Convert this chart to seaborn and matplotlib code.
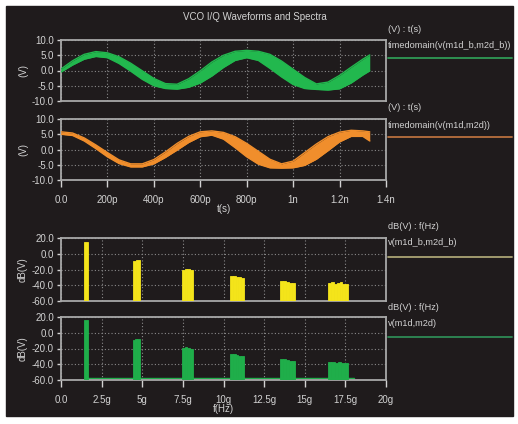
import numpy as np
import seaborn as sns
import matplotlib
matplotlib.use("Agg")
import matplotlib.pyplot as plt
from matplotlib.patches import Rectangle

# ---- time domain data (t in ns, volts) ----
t_ns = [0.0, 0.05, 0.10, 0.15, 0.20, 0.25, 0.30, 0.35, 0.40, 0.45, 0.50, 0.55, 0.60, 0.65,
        0.70, 0.75, 0.80, 0.85, 0.90, 0.95, 1.00, 1.05, 1.10, 1.15, 1.20, 1.25, 1.30, 1.33]
green_mid = [0.0, 2.5, 4.5, 5.4, 5.0, 3.4, 1.1, -1.5, -3.8, -5.1, -5.3, -4.1, -2.1, 0.5,
             3.0, 4.8, 5.4, 4.8, 3.0, 0.5, -2.1, -4.1, -5.3, -5.1, -3.8, -1.5, 1.1, 2.5]
green_half = [0.5, 0.7, 0.8, 0.8, 0.8, 1.1, 1.3, 1.4, 1.2, 0.8, 0.8, 1.4, 2.0, 2.3,
              2.0, 1.5, 1.2, 1.5, 2.3, 2.6, 2.5, 1.8, 0.9, 1.3, 2.2, 2.6, 2.6, 2.6]
orange_mid = [5.4, 5.0, 3.3, 0.9, -1.7, -4.0, -5.2, -5.2, -4.0, -1.7, 0.9, 3.3, 5.0, 5.4,
              4.5, 2.4, -0.2, -2.7, -4.6, -5.4, -4.9, -3.1, -0.7, 1.9, 4.1, 5.3, 5.2, 4.3]
orange_half = [0.4, 0.4, 0.5, 0.6, 0.7, 0.6, 0.5, 0.5, 0.7, 0.9, 1.1, 1.0, 0.8, 0.7,
               1.1, 1.8, 2.2, 2.1, 1.4, 0.7, 1.1, 2.1, 2.5, 2.3, 1.6, 1.0, 0.9, 1.5]

t_ticks = [0.0, 0.2, 0.4, 0.6, 0.8, 1.0, 1.2, 1.4]
t_labels = ["0.0", "200p", "400p", "600p", "800p", "1n", "1.2n", "1.4n"]
v_ticks = [10, 5, 0, -5, -10]
v_labels = ["10.0", "5.0", "0.0", "-5.0", "-10.0"]

# ---- spectra (f in GHz, dB) ----
harm_centers = [1.54, 4.63, 7.78, 10.83, 13.94, 17.05]
harm_widths = [0.26, 0.42, 0.64, 0.9, 0.95, 1.25]
yellow_tops = [[15.3], [-9.5, -8.5], [-20, -19, -19.5, -21],
               [-28.5, -28, -29, -30, -30.5], [-34, -34.5, -35.5, -37, -37.5],
               [-37.5, -36, -38, -37, -36.5, -38, -38.5]]
green_tops = [[16.5], [-9, -8, -8.5], [-19.5, -18.5, -19, -20],
              [-27.5, -27, -28, -29, -29], [-33.5, -33.5, -35, -36.5, -36.5],
              [-37.5, -37, -38, -37.5, -39, -38.5]]
noise_floor = -58
f_ticks = [0, 2.5, 5, 7.5, 10, 12.5, 15, 17.5, 20]
f_labels = ["0.0", "2.5g", "5g", "7.5g", "10g", "12.5g", "15g", "17.5g", "20g"]
db_ticks = [20, 0, -20, -40, -60]
db_labels = ["20.0", "0.0", "-20.0", "-40.0", "-60.0"]

BG = "#1f1b1c"
TXT = "#d2d2d2"
FRAME = "#a8a8a8"

sns.set_theme(style="dark", rc={"axes.facecolor": BG, "figure.facecolor": "white"})
plt.rcParams["font.family"] = ["Liberation Sans", "DejaVu Sans"]

W, H = 518, 424
fig = plt.figure(figsize=(W / 100, H / 100), dpi=100)
fig.patches.append(Rectangle((6 / W, 1 - 416 / H), 507 / W, 410 / H,
                             transform=fig.transFigure, color=BG, zorder=-10))


def make_ax(top, bottom):
    ax = fig.add_axes([61 / W, 1 - bottom / H, 325 / W, (bottom - top) / H])
    ax.set_facecolor(BG)
    for s in ax.spines.values():
        s.set_color(FRAME)
        s.set_linewidth(1.3)
    ax.grid(True, color="#8a8a8a", linestyle=(0, (1, 2)), linewidth=0.8)
    ax.tick_params(colors=TXT, labelsize=7, length=3, width=1, direction="out",
                   left=True, bottom=True, pad=2)
    return ax


def legend_block(y_head, head, name, y_line, color):
    fig.text(388 / W, 1 - y_head / H, head, color=TXT, fontsize=6.6, va="center")
    fig.text(388 / W, 1 - (y_head + 17) / H, name, color=TXT, fontsize=6.6, va="center")
    fig.add_artist(plt.Line2D([388 / W, 512 / W], [1 - y_line / H, 1 - y_line / H],
                              color=color, lw=1.3, transform=fig.transFigure))


def wave(ax, mid, half, color):
    mid = np.array(mid)
    half = np.array(half)
    lo, hi = mid - half, mid + half
    ax.fill_between(t_ns, lo, hi, color=color, lw=0, zorder=3)
    sns.lineplot(x=t_ns, y=lo, ax=ax, color=color, lw=1.0, zorder=3)
    sns.lineplot(x=t_ns, y=hi, ax=ax, color=color, lw=1.0, zorder=3)
    ax.set_xlim(0, 1.4)
    ax.set_ylim(-10, 10)
    ax.set_yticks(v_ticks)
    ax.set_yticklabels(v_labels)
    ax.set_xticks(t_ticks)
    ax.set_ylabel("(V)", color=TXT, fontsize=7, labelpad=3)


def spectrum(ax, tops, color):
    for c, w, tp in zip(harm_centers, harm_widths, tops):
        n = len(tp)
        sw = w / n
        xs = [c - w / 2 + sw * (i + 0.5) for i in range(n)]
        ax.bar(xs, [v + 60 for v in tp], width=sw, bottom=-60, color=color,
               edgecolor=color, linewidth=0.6, zorder=3)
    ax.set_xlim(0, 20)
    ax.set_ylim(-60, 20)
    ax.set_yticks(db_ticks)
    ax.set_yticklabels(db_labels)
    ax.set_xticks(f_ticks)
    ax.set_ylabel("dB(V)", color=TXT, fontsize=7, labelpad=3)


fig.text(255 / W, 1 - 17 / H, "VCO I/Q Waveforms and Spectra", color=TXT,
         fontsize=7, ha="center", va="center")

ax1 = make_ax(40, 101)
wave(ax1, green_mid, green_half, "#22b84e")
ax1.tick_params(axis="x", bottom=False, labelbottom=False)
legend_block(29, "(V) : t(s)", "timedomain(v(m1d_b,m2d_b))", 58, "#2f9a55")

ax2 = make_ax(119, 180)
wave(ax2, orange_mid, orange_half, "#f08e2c")
ax2.set_xticklabels(t_labels)
ax2.tick_params(axis="x", length=5, pad=6)
ax2.set_xlabel("t(s)", color=TXT, fontsize=7, labelpad=-1)
legend_block(108, "(V) : t(s)", "timedomain(v(m1d,m2d))", 137, "#b8703e")

ax3 = make_ax(238, 301)
spectrum(ax3, yellow_tops, "#f4e41a")
ax3.tick_params(axis="x", bottom=False, labelbottom=False)
legend_block(226, "dB(V) : f(Hz)", "v(m1d_b,m2d_b)", 257, "#aaa474")

ax4 = make_ax(317, 380)
spectrum(ax4, green_tops, "#1fae4a")
sns.lineplot(x=[1.6, 18.0], y=[noise_floor, noise_floor], ax=ax4, color="#1fae4a",
             lw=1.0, zorder=2)
ax4.set_xticklabels(f_labels)
ax4.tick_params(axis="x", length=5, pad=6)
ax4.set_xlabel("f(Hz)", color=TXT, fontsize=7, labelpad=-1)
legend_block(307, "dB(V) : f(Hz)", "v(m1d,m2d)", 337, "#2e8a55")

fig.savefig("out.png", dpi=100, facecolor="white")
